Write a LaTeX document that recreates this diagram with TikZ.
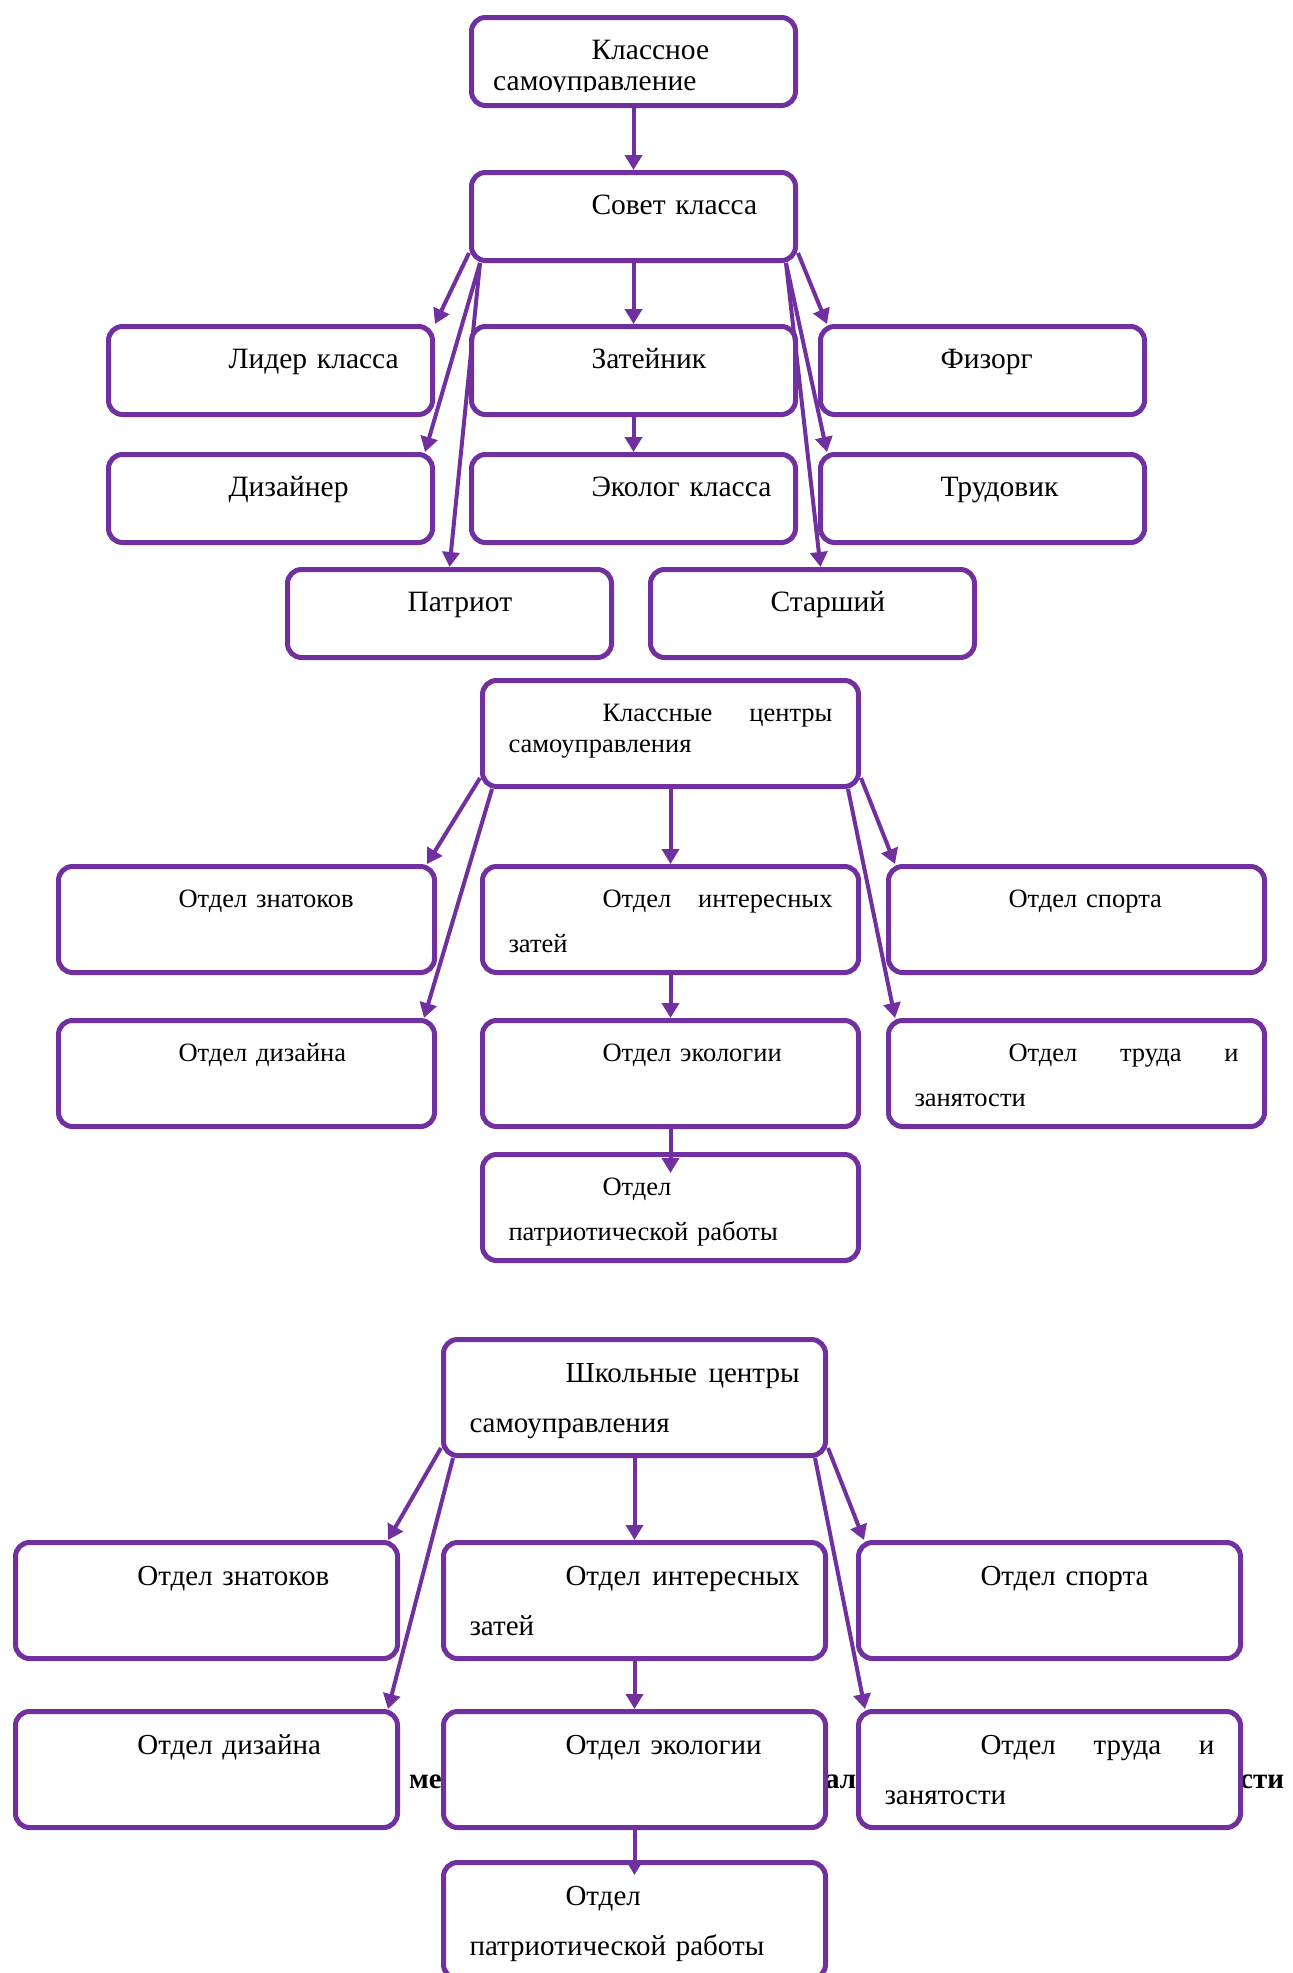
\documentclass[tikz,border=0pt]{standalone}
\usepackage{fontspec}
\setmainfont{Liberation Serif}
\usetikzlibrary{arrows.meta}
\definecolor{frame}{HTML}{7030A0}

\tikzset{
  box/.style={draw=frame, line width=5pt, rounded corners=14pt, fill=white,
    anchor=north west, inner xsep=25pt, inner ysep=0pt, align=left},
  boxone/.style={box, text width=274pt, text height=42pt, text depth=46pt,
    font=\fontsize{29.5}{31}\selectfont},
  boxtwo/.style={box, inner xsep=26pt, text width=324pt, text height=41pt, text depth=65pt,
    font=\fontsize{26.5}{45}\selectfont},
  boxthree/.style={box, inner xsep=26pt, text width=330pt, text height=43pt, text depth=73pt,
    font=\fontsize{29}{50}\selectfont},
  link/.style={draw=frame, line width=4pt, -{Triangle[length=15pt,width=17pt]}},
  ghost/.style={anchor=base west, inner sep=0pt, font=\fontsize{29}{29}\selectfont\bfseries},
}

\begin{document}
\begin{tikzpicture}[x=1pt, y=-1pt]
  \useasboundingbox (0,0) rectangle (1293,1973);

  % words of the page behind
  \node [ghost] (ghost1) at (409,1788) {ме};
  \node [ghost] (ghost2) at (825,1788) {ал};
  \node [ghost] (ghost3) at (1240,1788) {сти};

  % Class self-government
  \node [boxone] (klass) at (469,15) {\hspace*{95pt}Классное};
  \begin{scope}
    \clip (klass.north west) rectangle ([yshift=17pt]klass.south east);
    \node [anchor=base west, inner sep=0pt, font=\fontsize{29.5}{31}\selectfont] (klass-sub) at (493,90) {самоуправление};
  \end{scope}
  \node [boxone] (sovet) at (469,170) {\hspace*{95pt}Совет~класса};
  \node [boxone] (lider) at (106,324) {\hspace*{95pt}Лидер~класса};
  \node [boxone] (zatei) at (469,324) {\hspace*{95pt}Затейник};
  \node [boxone] (fizorg) at (818,324) {\hspace*{95pt}Физорг};
  \node [boxone] (dizainer) at (106,452) {\hspace*{95pt}Дизайнер};
  \node [boxone] (ekolog) at (469,452) {\hspace*{95pt}Эколог~класса};
  \node [boxone] (trudovik) at (818,452) {\hspace*{95pt}Трудовик};
  \node [boxone] (patriot) at (285,567) {\hspace*{95pt}Патриот};
  \node [boxone] (starshiy) at (648,567) {\hspace*{95pt}Старший};

  \draw [link] (klass.south) -- (sovet.north);
  \draw [link] (sovet.south) -- (zatei.north);
  \draw [link] (zatei.south) -- (ekolog.north);
  \draw [link] ([yshift=10pt]sovet.south west) -- (lider.north east);
  \draw [link] ([xshift=11pt]sovet.south west) -- ([xshift=-10pt]dizainer.north east);
  \draw [link] ([xshift=11pt]sovet.south west) -- (patriot.north);
  \draw [link] ([yshift=10pt]sovet.south east) -- ([xshift=9pt]fizorg.north west);
  \draw [link] ([xshift=-12pt]sovet.south east) -- ([xshift=9pt]trudovik.north west);
  \draw [link] ([xshift=-12pt]sovet.south east) -- ([xshift=8pt]starshiy.north);

  % Class centres
  \node [boxtwo, font=\fontsize{26.5}{31}\selectfont] (kcentr) at (480,678)
    {\makebox[324pt][s]{\hspace*{94pt}Классные\hfill центры}\\самоуправления};
  \node [boxtwo] (znat2) at (56,864) {\hspace*{94pt}Отдел~знатоков};
  \node [boxtwo] (zatei2) at (480,864)
    {\makebox[324pt][s]{\hspace*{94pt}Отдел\hfill интересных}\\затей};
  \node [boxtwo] (sport2) at (886,864) {\hspace*{94pt}Отдел~спорта};
  \node [boxtwo] (dizain2) at (56,1018) {\hspace*{94pt}Отдел~дизайна};
  \node [boxtwo] (ekol2) at (480,1018) {\hspace*{94pt}Отдел~экологии};
  \node [boxtwo] (trud2) at (886,1018)
    {\makebox[324pt][s]{\hspace*{94pt}Отдел\hfill труда\hfill и}\\занятости};
  \node [boxtwo] (patr2) at (480,1152) {\hspace*{94pt}Отдел\\патриотической работы};

  \draw [link] ([yshift=11pt]kcentr.south west) -- ([xshift=-10pt]znat2.north east);
  \draw [link] ([xshift=12pt]kcentr.south west) -- ([xshift=-13pt]dizain2.north east);
  \draw [link] (kcentr.south) -- (zatei2.north);
  \draw [link] ([yshift=11pt]kcentr.south east) -- ([xshift=9pt]sport2.north west);
  \draw [link] ([xshift=-13pt]kcentr.south east) -- ([xshift=9pt]trud2.north west);
  \draw [link] (zatei2.south) -- (ekol2.north);
  \draw [link] (ekol2.south) -- ([yshift=-21pt]patr2.north);

  % School centres
  \node [boxthree] (shkol) at (441,1337)
    {\makebox[330pt][s]{\hspace*{96pt}Школьные\hfill центры}\\самоуправления};
  \node [boxthree] (znat3) at (13,1540) {\hspace*{96pt}Отдел~знатоков};
  \node [boxthree] (zatei3) at (441,1540)
    {\makebox[330pt][s]{\hspace*{96pt}Отдел\hfill интересных}\\затей};
  \node [boxthree] (sport3) at (856,1540) {\hspace*{96pt}Отдел~спорта};
  \node [boxthree] (dizain3) at (13,1709) {\hspace*{96pt}Отдел~дизайна};
  \node [boxthree] (ekol3) at (441,1709) {\hspace*{96pt}Отдел~экологии};
  \node [boxthree] (trud3) at (856,1709)
    {\makebox[330pt][s]{\hspace*{96pt}Отдел\hfill труда\hfill и}\\занятости};
  \node [boxthree] (patr3) at (441,1860) {\hspace*{96pt}Отдел\\патриотической работы};

  \draw [link] ([yshift=10pt]shkol.south west) -- ([xshift=-12pt]znat3.north east);
  \draw [link] ([xshift=12pt]shkol.south west) -- ([xshift=-12pt]dizain3.north east);
  \draw [link] (shkol.south) -- (zatei3.north);
  \draw [link] ([yshift=10pt]shkol.south east) -- ([xshift=8pt]sport3.north west);
  \draw [link] ([xshift=-13pt]shkol.south east) -- ([xshift=9pt]trud3.north west);
  \draw [link] (zatei3.south) -- (ekol3.north);
  \draw [link] (ekol3.south) -- ([yshift=-15pt]patr3.north);
\end{tikzpicture}
\end{document}
